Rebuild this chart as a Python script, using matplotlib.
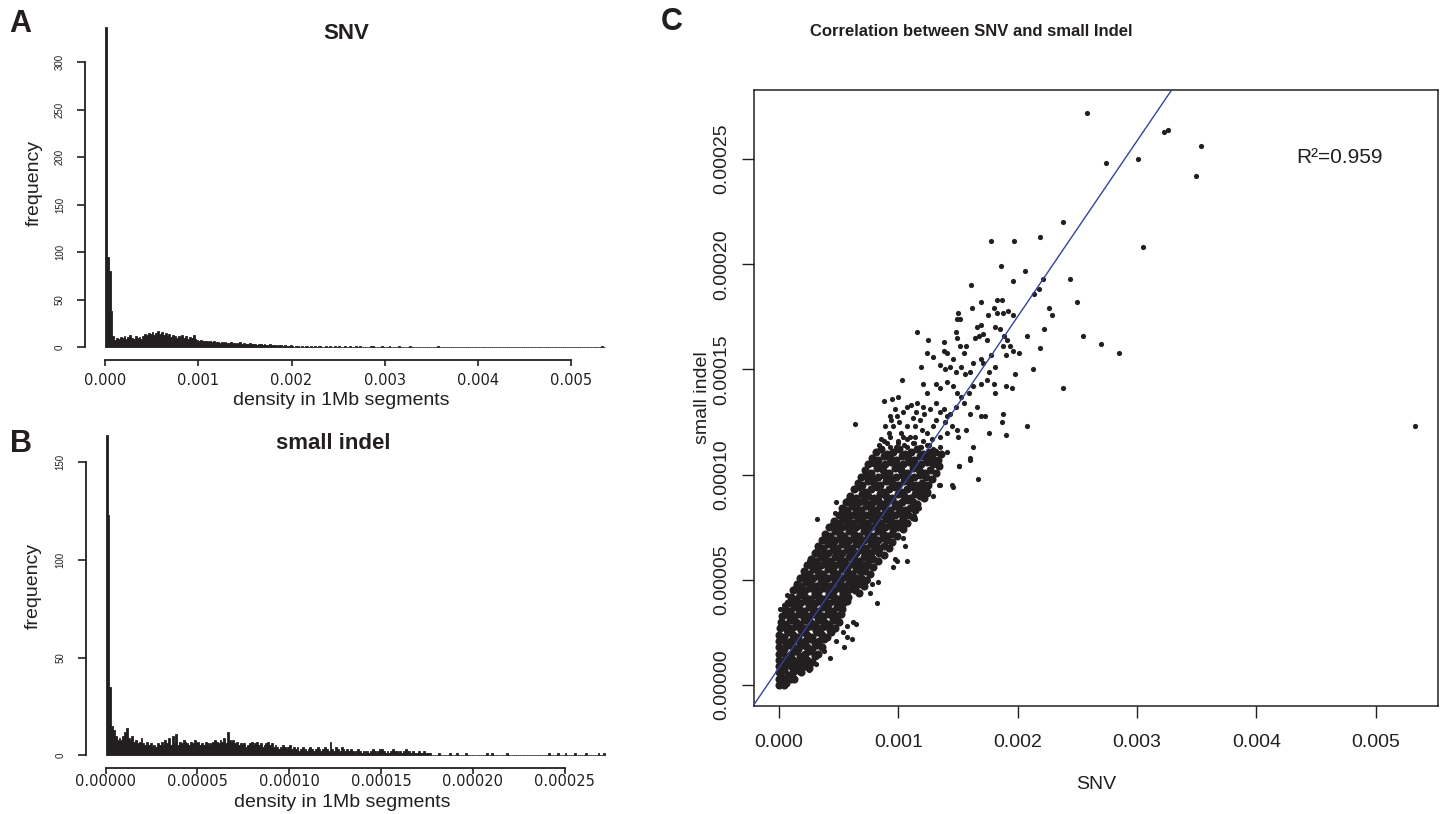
import numpy as np
import matplotlib
matplotlib.use("Agg")
import matplotlib.pyplot as plt

plt.rcParams['font.family'] = ['Liberation Sans', 'DejaVu Sans']

ink = '#231f20'
fit_color = '#3442a0'

# A: SNV density histogram, bins of 0.00002
snv_bin = 0.00002
snv_counts = [
    337, 95, 80, 38, 12, 8, 10, 9, 11, 10,
    12, 9, 11, 13, 10, 9, 12, 10, 11, 9,
    12, 14, 13, 15, 14, 16, 13, 15, 17, 14,
    16, 13, 15, 12, 14, 11, 13, 12, 10, 12,
    11, 13, 10, 12, 9, 11, 10, 13, 9, 8,
    7, 8, 6, 7, 6, 5, 6, 5, 6, 5,
    5, 4, 5, 4, 5, 4, 4, 5, 4, 4,
    3, 4, 5, 3, 4, 3, 3, 4, 3, 3,
    3, 2, 3, 3, 2, 3, 2, 2, 3, 2,
    2, 2, 1, 2, 2, 1, 2, 1, 1, 2,
    1, 0, 1, 1, 0, 1, 0, 1, 1, 0,
    1, 0, 1, 0, 1, 1, 0, 0, 1, 0,
    1, 0, 0, 1, 0, 1, 0, 0, 1, 0,
    0, 1, 0, 0, 1, 0, 1, 0, 0, 0,
    0, 0, 1, 1, 0, 0, 0, 0, 1, 0,
    0, 0, 1, 0, 0, 0, 0, 1, 0, 0,
    0, 0, 0, 1, 0, 0, 0, 0, 0, 0,
    0, 0, 0, 0, 0, 0, 0, 0, 1, 0,
] + [0] * 86 + [1, 0]

# B: small indel density histogram, bins of 0.000001
indel_bin = 0.000001
indel_counts = [
    164, 123, 35, 15, 13, 10, 8, 9, 8, 10,
    12, 14, 9, 8, 10, 7, 8, 6, 7, 9,
    6, 5, 7, 5, 6, 4, 5, 4, 6, 5,
    7, 5, 8, 6, 9, 5, 10, 6, 11, 5,
    7, 6, 8, 7, 6, 5, 7, 6, 8, 6,
    7, 5, 6, 5, 7, 6, 5, 6, 7, 8,
    7, 6, 8, 7, 9, 6, 12, 8, 7, 8,
    6, 7, 5, 6, 5, 6, 4, 5, 6, 7,
    5, 6, 7, 5, 6, 4, 5, 6, 7, 5,
    6, 4, 5, 4, 3, 4, 5, 4, 3, 4,
    5, 3, 4, 3, 4, 2, 3, 4, 3, 2,
    3, 4, 3, 2, 3, 4, 3, 2, 3, 4,
    3, 2, 7, 3, 2, 4, 3, 2, 4, 3,
    2, 3, 2, 3, 2, 1, 2, 3, 2, 1,
    2, 1, 2, 1, 2, 3, 2, 1, 2, 3,
    3, 2, 1, 2, 1, 2, 3, 2, 2, 1,
    2, 1, 2, 3, 2, 2, 1, 2, 1, 1,
    2, 1, 1, 2, 1, 1, 1, 0, 0, 0,
    0, 1, 0, 0, 0, 0, 0, 1, 0, 0,
    0, 1, 0, 0, 0, 0, 1, 0, 0, 0,
    0, 0, 0, 0, 0, 0, 0, 1, 0, 0,
    1, 0, 0, 0, 0, 0, 0, 0, 1, 0,
    0, 0, 0, 0, 0, 0, 0, 0, 0, 0,
    0, 0, 0, 0, 0, 0, 0, 0, 0, 0,
    0, 1, 0, 0, 0, 0, 1, 0, 0, 0,
    1, 0, 0, 0, 0, 1, 0, 0, 0, 0,
    0, 1, 0, 0, 0, 0, 0, 0, 1, 0,
    0, 1,
]

# C: (SNV in 1e-5, small indel in 1e-6) per 1Mb segment
core_pts = [
    (0, 0), (2, 1), (4, 0), (6, 1),
    (0, 3), (2, 4), (6, 2), (10, 3), (13, 3),
    (0, 6), (4, 7), (8, 5), (12, 6), (16, 7), (19, 6),
    (0, 9), (2, 8), (6, 10), (10, 9), (14, 8), (18, 10), (22, 9), (25, 8),
    (0, 12), (4, 11), (8, 13), (12, 12), (16, 11), (20, 13), (24, 12), (28, 11),
    (0, 15), (2, 16), (6, 14), (10, 15), (14, 16), (18, 14), (22, 15), (26, 16), (30, 14), (33, 15),
    (0, 18), (4, 17), (8, 19), (12, 18), (16, 17), (20, 19), (24, 18), (28, 17), (32, 19), (36, 18),
    (0, 21), (2, 22), (6, 20), (10, 21), (14, 22), (18, 20), (22, 21), (26, 22), (30, 20), (34, 21), (38, 22),
    (0, 24), (4, 23), (8, 25), (12, 24), (16, 23), (20, 25), (24, 24), (28, 23), (32, 25), (36, 24), (40, 23), (44, 25),
    (1, 27), (3, 28), (7, 26), (11, 27), (15, 28), (19, 26), (23, 27), (27, 28), (31, 26), (35, 27), (39, 28), (43, 26), (47, 27),
    (2, 30), (6, 29), (10, 31), (14, 30), (18, 29), (22, 31), (26, 30), (30, 29), (34, 31), (38, 30), (42, 29), (46, 31), (50, 30),
    (3, 33), (5, 34), (9, 32), (13, 33), (17, 34), (21, 32), (25, 33), (29, 34), (33, 32), (37, 33), (41, 34), (45, 32), (49, 33), (52, 34),
    (5, 36), (9, 35), (13, 37), (17, 36), (21, 35), (25, 37), (29, 36), (33, 35), (37, 37), (41, 36), (45, 35), (49, 37), (53, 36),
    (8, 39), (10, 40), (14, 38), (18, 39), (22, 40), (26, 38), (30, 39), (34, 40), (38, 38), (42, 39), (46, 40), (50, 38), (54, 39), (57, 40),
    (10, 42), (14, 41), (18, 43), (22, 42), (26, 41), (30, 43), (34, 42), (38, 41), (42, 43), (46, 42), (50, 41), (54, 43), (58, 42),
    (12, 45), (14, 46), (18, 44), (22, 45), (26, 46), (30, 44), (34, 45), (38, 46), (42, 44), (46, 45), (50, 46), (54, 44), (58, 45), (61, 46),
    (15, 48), (19, 47), (23, 49), (27, 48), (31, 47), (35, 49), (39, 48), (43, 47), (47, 49), (51, 48), (55, 47), (59, 49), (63, 48),
    (18, 51), (21, 52), (25, 50), (29, 51), (33, 52), (37, 50), (41, 51), (45, 52), (49, 50), (53, 51), (57, 52), (61, 50), (65, 51),
    (21, 54), (25, 53), (29, 55), (33, 54), (37, 53), (41, 55), (45, 54), (49, 53), (53, 55), (57, 54), (61, 53), (65, 55), (68, 54),
    (24, 57), (27, 58), (31, 56), (35, 57), (39, 58), (43, 56), (47, 57), (51, 58), (55, 56), (59, 57), (63, 58), (67, 56), (71, 57),
    (27, 60), (31, 59), (35, 61), (39, 60), (43, 59), (47, 61), (51, 60), (55, 59), (59, 61), (63, 60), (67, 59), (71, 61), (75, 60),
    (30, 63), (33, 64), (37, 62), (41, 63), (45, 64), (49, 62), (53, 63), (57, 64), (61, 62), (65, 63), (69, 64), (73, 62), (77, 63), (80, 64),
    (33, 66), (37, 65), (41, 67), (45, 66), (49, 65), (53, 67), (57, 66), (61, 65), (65, 67), (69, 66), (73, 65), (77, 67), (81, 66), (84, 65),
    (36, 69), (39, 70), (43, 68), (47, 69), (51, 70), (55, 68), (59, 69), (63, 70), (67, 68), (71, 69), (75, 70), (79, 68), (83, 69), (87, 70),
    (39, 72), (43, 71), (47, 73), (51, 72), (55, 71), (59, 73), (63, 72), (67, 71), (71, 73), (75, 72), (79, 71), (83, 73), (87, 72), (91, 71),
    (42, 75), (45, 76), (49, 74), (53, 75), (57, 76), (61, 74), (65, 75), (69, 76), (73, 74), (77, 75), (81, 76), (85, 74), (89, 75), (93, 76), (96, 74),
    (46, 78), (50, 77), (54, 79), (58, 78), (62, 77), (66, 79), (70, 78), (74, 77), (78, 79), (82, 78), (86, 77), (90, 79), (94, 78), (99, 77),
    (50, 81), (53, 82), (57, 80), (61, 81), (65, 82), (69, 80), (73, 81), (77, 82), (81, 80), (85, 81), (89, 82), (93, 80), (97, 81), (101, 82), (104, 80),
    (53, 84), (57, 83), (61, 85), (65, 84), (69, 83), (73, 85), (77, 84), (81, 83), (85, 85), (89, 84), (93, 83), (97, 85), (101, 84), (106, 83),
    (56, 87), (59, 88), (63, 86), (67, 87), (71, 88), (75, 86), (79, 87), (83, 88), (87, 86), (91, 87), (95, 88), (99, 86), (103, 87), (108, 88),
    (60, 90), (65, 89), (70, 91), (75, 90), (80, 89), (85, 91), (90, 90), (95, 89), (100, 91), (105, 90), (110, 89), (114, 91),
    (63, 93), (67, 94), (72, 92), (77, 93), (82, 94), (87, 92), (92, 93), (97, 94), (102, 92), (107, 93), (112, 94), (116, 92),
    (66, 96), (70, 95), (75, 97), (80, 96), (85, 95), (90, 97), (95, 96), (100, 95), (105, 97), (110, 96), (115, 95),
    (69, 99), (73, 100), (78, 98), (83, 99), (88, 100), (93, 98), (98, 99), (103, 100), (108, 98), (113, 99), (118, 100),
    (72, 102), (77, 101), (82, 103), (87, 102), (92, 101), (97, 103), (102, 102), (107, 101), (112, 103), (117, 102), (122, 101),
    (75, 105), (79, 106), (84, 104), (89, 105), (94, 106), (99, 104), (104, 105), (109, 106), (114, 104), (119, 105), (124, 106),
    (78, 108), (83, 107), (88, 109), (93, 108), (98, 107), (103, 109), (108, 108), (113, 107), (118, 109), (123, 108),
    (81, 111), (86, 112), (91, 110), (96, 111), (101, 112), (106, 110), (111, 111), (116, 112), (121, 110), (126, 111),
]

# right-hand fringe of the dense band
core_right_pts = [
    (64, 45), (67, 44), (67, 48), (71, 47), (69, 51), (73, 50), (72, 54), (76, 53),
    (75, 57), (79, 56), (79, 60), (83, 59), (84, 63), (88, 62), (88, 66), (92, 65),
    (91, 69), (95, 68), (95, 72), (99, 71), (100, 75), (104, 74), (103, 78), (107, 77),
    (108, 81), (112, 80), (110, 84), (114, 83), (112, 87), (116, 86), (118, 90), (122, 89),
    (120, 93), (124, 92), (120, 96), (125, 95), (123, 99), (128, 98), (127, 102), (132, 101),
    (129, 105), (134, 104), (128, 108), (133, 107), (131, 111), (136, 110),
]

edge_pts = [
    (1, 36), (4, 38), (7, 43), (16, 48), (25, 59), (32, 79), (48, 87), (47, 82),
    (64, 93), (72, 101), (79, 105), (25, 7), (43, 13), (55, 18), (61, 22), (65, 29),
    (57, 28), (54, 25), (78, 48), (82, 39), (76, 44), (83, 49), (75, 50), (96, 56),
    (99, 59), (97, 60), (104, 70), (106, 66), (104, 75), (117, 84), (114, 79), (124, 93),
    (129, 90), (120, 92), (125, 91), (145, 95), (135, 95), (151, 104), (160, 107),
    (163, 113), (167, 98), (107, 59), (62, 30), (57, 23), (31, 10), (38, 16), (48, 21),
]

mid_pts = [
    (178, 211), (197, 211), (186, 199), (206, 197), (196, 192), (161, 190), (221, 193),
    (218, 188), (214, 186), (169, 182), (183, 183), (187, 183), (180, 179), (183, 177),
    (188, 177), (192, 178), (196, 176), (175, 176), (162, 179), (150, 177), (149, 174),
    (152, 174), (226, 179), (229, 176), (116, 168), (125, 164), (138, 163), (148, 168),
    (149, 165), (166, 170), (169, 171), (171, 167), (168, 166), (164, 165), (174, 164),
    (181, 170), (185, 169), (189, 166), (191, 164), (194, 161), (196, 159), (188, 161),
    (190, 157), (201, 158), (208, 166), (222, 169), (219, 160), (213, 150), (178, 157),
    (181, 151), (176, 149), (171, 153), (124, 158), (129, 156), (138, 159), (141, 158),
    (146, 155), (155, 158), (157, 161), (152, 161), (135, 152), (139, 150), (143, 151),
    (148, 149), (153, 151), (156, 148), (160, 149), (163, 153), (169, 155), (119, 151),
    (103, 145), (121, 143), (124, 139), (132, 143), (135, 141), (141, 144), (146, 142),
    (149, 139), (153, 137), (159, 139), (163, 142), (169, 143), (174, 145), (180, 143),
    (190, 142), (195, 141), (181, 139), (198, 148), (88, 135), (95, 136), (100, 137),
    (93, 128), (99, 128), (107, 132), (111, 133), (116, 134), (121, 132), (127, 131),
    (132, 134), (138, 131), (143, 129), (148, 132), (155, 134), (160, 129), (166, 132),
    (169, 128), (173, 128), (188, 129), (187, 125), (176, 120), (190, 119), (208, 123),
    (89, 123), (92, 120), (96, 123), (102, 120), (107, 123), (104, 118), (110, 118),
    (114, 123), (120, 121), (124, 120), (129, 123), (135, 118), (141, 120), (145, 123),
    (149, 121), (150, 118), (157, 121), (88, 116), (93, 113), (100, 115), (107, 113),
    (113, 115), (118, 113), (124, 114), (129, 112), (135, 113), (141, 111), (146, 94),
    (160, 108), (151, 104), (134, 95),
    (84, 114), (91, 115), (98, 113), (105, 114), (112, 115), (119, 113), (126, 114),
    (86, 117), (93, 118), (100, 116), (107, 117), (114, 118), (121, 116), (128, 117),
    (94, 126), (101, 125), (112, 127), (118, 126), (132, 126), (139, 125),
    (97, 131), (104, 130), (115, 130), (122, 129), (135, 130), (141, 128),
]

outlier_pts = [
    (258, 272), (323, 263), (326, 264), (354, 256), (274, 248), (301, 250), (349, 242),
    (305, 208), (238, 220), (219, 213), (244, 193), (250, 182), (255, 166), (270, 162),
    (285, 158), (238, 141), (533, 123), (64, 124),
]

fit_slope = 0.0835
fit_intercept = 8.1e-6
r_squared = 0.959

W, H = 1448, 814


def box(l, t, r, b):
    return [l / W, 1 - b / H, (r - l) / W, (b - t) / H]


fig = plt.figure(figsize=(W / 100, H / 100), dpi=100)


def hist_panel(rect, counts, width, xlim, ylim, xticks, xfmt, yticks, xpad):
    ax = fig.add_axes(rect)
    edges = np.arange(len(counts)) * width
    ax.bar(edges, counts, width=width, align='edge', color=ink,
           edgecolor=ink, linewidth=0.6)
    ax.set_xlim(*xlim)
    ax.set_ylim(*ylim)
    for s in ['top', 'right']:
        ax.spines[s].set_visible(False)
    for s in ['left', 'bottom']:
        ax.spines[s].set_linewidth(1.3)
        ax.spines[s].set_color(ink)
    ax.spines['left'].set_bounds(yticks[0], yticks[-1])
    ax.spines['bottom'].set_bounds(xticks[0], xticks[-1])
    ax.set_xticks(xticks)
    ax.set_xticklabels([xfmt % v for v in xticks], family='DejaVu Sans', fontsize=10.5)
    ax.set_yticks(yticks)
    ax.set_yticklabels([str(v) for v in yticks], fontsize=7, rotation=90, va='center')
    ax.tick_params(axis='x', length=4, width=1.2, pad=xpad, colors=ink)
    ax.tick_params(axis='y', length=5.5, width=1.2, pad=9, colors=ink)
    return ax


axA = hist_panel(box(85, 14, 625, 360), snv_counts, snv_bin,
                 (-0.000214, 0.005574), (-13.5, 350.5),
                 [0, 0.001, 0.002, 0.003, 0.004, 0.005], '%.3f',
                 [0, 50, 100, 150, 200, 250, 300], 5.5)
axA.set_xlabel('density in 1Mb segments', fontsize=14, color=ink, va='center')
axA.xaxis.set_label_coords(0.474, -0.116)
axA.set_ylabel('frequency', fontsize=14, color=ink, va='center')
axA.yaxis.set_label_coords(-0.0935, 0.512)
axA.text(0.483, 0.945, 'SNV', transform=axA.transAxes, ha='center', va='center',
         fontsize=16, fontweight='bold', color=ink)

axB = hist_panel(box(85.7, 422, 625, 768), indel_counts, indel_bin,
                 (-1.09e-5, 0.0002829), (-6.56, 170.56),
                 [0, 0.00005, 0.0001, 0.00015, 0.0002, 0.00025], '%.5f',
                 [0, 50, 100, 150], 0.5)
axB.set_xlabel('density in 1Mb segments', fontsize=14, color=ink, va='center')
axB.xaxis.set_label_coords(0.476, -0.101)
axB.set_ylabel('frequency', fontsize=14, color=ink, va='center')
axB.yaxis.set_label_coords(-0.098, 0.527)
axB.text(0.459, 0.939, 'small indel', transform=axB.transAxes, ha='center', va='center',
         fontsize=16, fontweight='bold', color=ink)

# C: scatter with regression line
axC = fig.add_axes(box(753.5, 90, 1438, 706))
core = np.array(core_pts + core_right_pts, dtype=float)
rest = np.array(edge_pts + mid_pts + outlier_pts, dtype=float)
axC.scatter(core[:, 0] * 1e-5, core[:, 1] * 1e-6, s=34, color=ink, linewidths=0, zorder=2)
axC.scatter(rest[:, 0] * 1e-5, rest[:, 1] * 1e-6, s=14, color=ink, linewidths=0, zorder=2)
axC.axline((0, fit_intercept), slope=fit_slope, color=fit_color, lw=1.0, zorder=3)
axC.set_xlim(-0.000212, 0.005521)
axC.set_ylim(-9.93e-6, 0.0002828)
for s in axC.spines.values():
    s.set_linewidth(1.1)
    s.set_color(ink)
cx = [0, 0.001, 0.002, 0.003, 0.004, 0.005]
cy = [0, 0.00005, 0.0001, 0.00015, 0.0002, 0.00025]
axC.set_xticks(cx)
axC.set_xticklabels(['%.3f' % v for v in cx], fontsize=14)
axC.set_yticks(cy)
axC.set_yticklabels(['%.5f' % v for v in cy], fontsize=14, rotation=90, va='center')
axC.tick_params(axis='both', length=8.5, width=1.0, colors=ink)
axC.tick_params(axis='x', pad=12)
axC.tick_params(axis='y', pad=8)
axC.set_xlabel('SNV', fontsize=14, color=ink, va='center')
axC.xaxis.set_label_coords(0.5, -0.128)
axC.set_ylabel('small indel', fontsize=14, color=ink, va='center')
axC.yaxis.set_label_coords(-0.0745, 0.5)
axC.text(0.004332, 0.0002505, 'R\u00b2=%.3f' % r_squared, fontsize=15, color=ink,
         ha='left', va='center')

fig.text(971 / W, 1 - 32 / H, 'Correlation between SNV and small Indel',
         ha='center', va='center', fontsize=12, fontweight='bold', color=ink)

for letter, x, y in [('A', 20, 24), ('B', 21, 444), ('C', 672, 22)]:
    fig.text(x / W, 1 - y / H, letter, ha='center', va='center',
             fontsize=22, fontweight='bold', color=ink)

fig.savefig('out.png', dpi=100)
